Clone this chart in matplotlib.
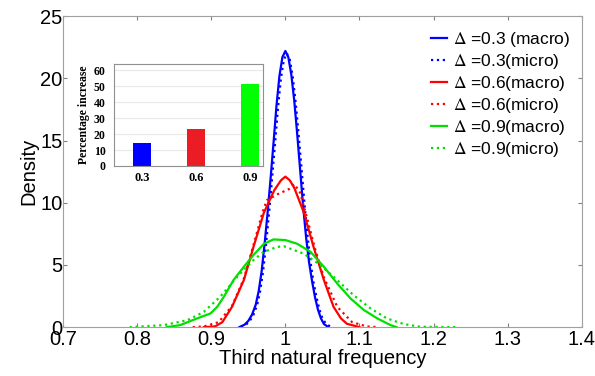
import matplotlib
matplotlib.use("Agg")
import matplotlib.pyplot as plt

plt.rcParams["font.family"] = ["Liberation Sans", "DejaVu Sans"]
plt.rcParams["mathtext.fontset"] = "stix"

# density curves (frequency, density)
blue_macro_x = [0.938, 0.945, 0.950, 0.955, 0.960, 0.964, 0.968, 0.972, 0.976, 0.980, 0.984,
                0.988, 0.992, 0.996, 1.0, 1.004, 1.008, 1.012, 1.016, 1.020, 1.024, 1.028,
                1.032, 1.036, 1.040, 1.044, 1.048, 1.052, 1.058]
blue_macro_y = [0.0, 0.2, 0.5, 1.0, 1.8, 2.9, 4.5, 6.7, 9.2, 11.9, 14.8,
                17.8, 20.2, 21.7, 22.2, 21.7, 20.3, 18.2, 15.5, 12.6, 9.7, 7.2,
                5.2, 3.7, 2.4, 1.4, 0.7, 0.25, 0.0]

blue_micro_x = [0.940, 0.947, 0.952, 0.957, 0.962, 0.966, 0.970, 0.974, 0.978, 0.982, 0.986,
                0.990, 0.994, 0.998, 1.002, 1.006, 1.010, 1.014, 1.018, 1.022, 1.026, 1.030,
                1.034, 1.038, 1.042, 1.046, 1.050, 1.055, 1.062]
blue_micro_y = [0.0, 0.2, 0.5, 1.0, 1.8, 2.9, 4.5, 6.7, 9.2, 11.9, 14.7,
                17.6, 20.0, 21.5, 22.0, 21.5, 20.1, 18.0, 15.4, 12.6, 9.8, 7.3,
                5.2, 3.6, 2.4, 1.4, 0.7, 0.25, 0.0]

red_macro_x = [0.89, 0.905, 0.915, 0.928, 0.944, 0.957, 0.971, 0.985, 0.994, 1.0, 1.006,
               1.012, 1.025, 1.038, 1.052, 1.065, 1.075, 1.083, 1.10]
red_macro_y = [0.0, 0.05, 0.4, 1.63, 3.78, 6.45, 9.2, 11.0, 11.8, 12.1, 11.8,
               11.2, 9.2, 6.45, 3.78, 1.63, 0.7, 0.27, 0.0]

red_micro_x = [0.875, 0.89, 0.91, 0.928, 0.944, 0.957, 0.969, 0.975, 0.99, 1.005, 1.012,
               1.02, 1.03, 1.04, 1.052, 1.07, 1.09, 1.11, 1.125]
red_micro_y = [0.0, 0.05, 0.4, 1.7, 3.9, 6.6, 9.2, 10.2, 10.7, 11.1, 11.5,
               10.8, 8.6, 6.3, 4.0, 1.63, 0.4, 0.05, 0.0]

green_macro_x = [0.84, 0.858, 0.881, 0.899, 0.908, 0.917, 0.930, 0.944, 0.957, 0.971, 0.984,
                 1.0, 1.016, 1.034, 1.052, 1.070, 1.088, 1.106, 1.124, 1.142, 1.15]
green_macro_y = [0.0, 0.16, 0.7, 1.1, 1.63, 2.44, 3.78, 4.85, 5.8, 6.7, 7.05,
                 7.0, 6.7, 6.05, 4.85, 3.5, 2.3, 1.37, 0.7, 0.16, 0.0]

green_micro_x = [0.79, 0.836, 0.868, 0.890, 0.912, 0.935, 0.957, 0.971, 0.989, 0.998,
                 1.025, 1.047, 1.070, 1.092, 1.115, 1.137, 1.16, 1.182, 1.233]
green_micro_y = [0.0, 0.16, 0.56, 1.23, 2.44, 4.04, 5.4, 6.05, 6.45, 6.5,
                 5.9, 5.0, 3.78, 2.57, 1.5, 0.7, 0.24, 0.03, 0.0]

labels = [r"$\Delta$ =0.3 (macro)", r"$\Delta$ =0.3(micro)",
          r"$\Delta$ =0.6(macro)", r"$\Delta$ =0.6(micro)",
          r"$\Delta$ =0.9(macro)", r"$\Delta$ =0.9(micro)"]

# inset: percentage increase
delta_levels = ["0.3", "0.6", "0.9"]
pct_increase = [14.2, 23.2, 51.4]
bar_colors = ["#0000ff", "#ec1c24", "#00ff00"]

fig = plt.figure(figsize=(5.95, 3.76), dpi=100)
ax = fig.add_axes([0.1059, 0.130, 0.872, 0.827])

lw = 1.6
ax.plot(blue_macro_x, blue_macro_y, color="#0000ff", lw=lw, label=labels[0])
ax.plot(blue_micro_x, blue_micro_y, color="#0000ff", lw=lw, ls=":", label=labels[1])
ax.plot(red_macro_x, red_macro_y, color="#ff0000", lw=lw, label=labels[2])
ax.plot(red_micro_x, red_micro_y, color="#ff0000", lw=lw, ls=":", label=labels[3])
ax.plot(green_macro_x, green_macro_y, color="#00e000", lw=lw, label=labels[4])
ax.plot(green_micro_x, green_micro_y, color="#00e000", lw=lw, ls=":", label=labels[5])

ax.set_xlim(0.7, 1.4)
ax.set_ylim(0, 25)
ax.set_xticks([0.7, 0.8, 0.9, 1.0, 1.1, 1.2, 1.3, 1.4])
ax.set_xticklabels(["0.7", "0.8", "0.9", "1", "1.1", "1.2", "1.3", "1.4"])
ax.set_yticks([0, 5, 10, 15, 20, 25])
ax.tick_params(direction="in", length=3, width=0.8, color="#808080",
               labelsize=14.5, top=True, right=True)
ax.tick_params(axis="x", pad=2)
ax.tick_params(axis="y", pad=0.5)
for s in ax.spines.values():
    s.set_color("#a0a0a0")
ax.set_xlabel("Third natural frequency", fontsize=14.5, labelpad=0)
ax.set_ylabel("Density", fontsize=14.5, labelpad=1)

ax.legend(loc="upper left", bbox_to_anchor=(431 / 595, 1 - 30 / 376),
          bbox_transform=fig.transFigure, frameon=False, fontsize=12.5,
          borderpad=0, borderaxespad=0, handlelength=0.95, handletextpad=0.3,
          labelspacing=0.17)

# inset bar chart
ins = fig.add_axes([114 / 595, 1 - 166 / 376, 149 / 595, 102 / 376])
ins.bar(range(len(delta_levels)), pct_increase, width=0.32, color=bar_colors, zorder=2)
ins.set_xlim(-0.52, 2.24)
ins.set_ylim(0, 64)
ins.set_yticks([0, 10, 20, 30, 40, 50, 60])
ins.set_xticks(range(len(delta_levels)))
ins.set_xticklabels(delta_levels)
ins.grid(axis="y", color="#e8e8e8", lw=0.8, zorder=0)
ins.tick_params(length=0)
ins.tick_params(axis="y", labelsize=8.5, pad=6)
ins.tick_params(axis="x", labelsize=9, pad=4)
for lab in ins.get_xticklabels() + ins.get_yticklabels():
    lab.set_family("Liberation Serif")
    lab.set_fontweight("bold")
ins.set_ylabel("Percentage increase", fontsize=8.5, family="Liberation Serif",
               fontweight="bold", labelpad=3)
for s in ins.spines.values():
    s.set_color("#909090")

fig.savefig("out.png", dpi=100)
